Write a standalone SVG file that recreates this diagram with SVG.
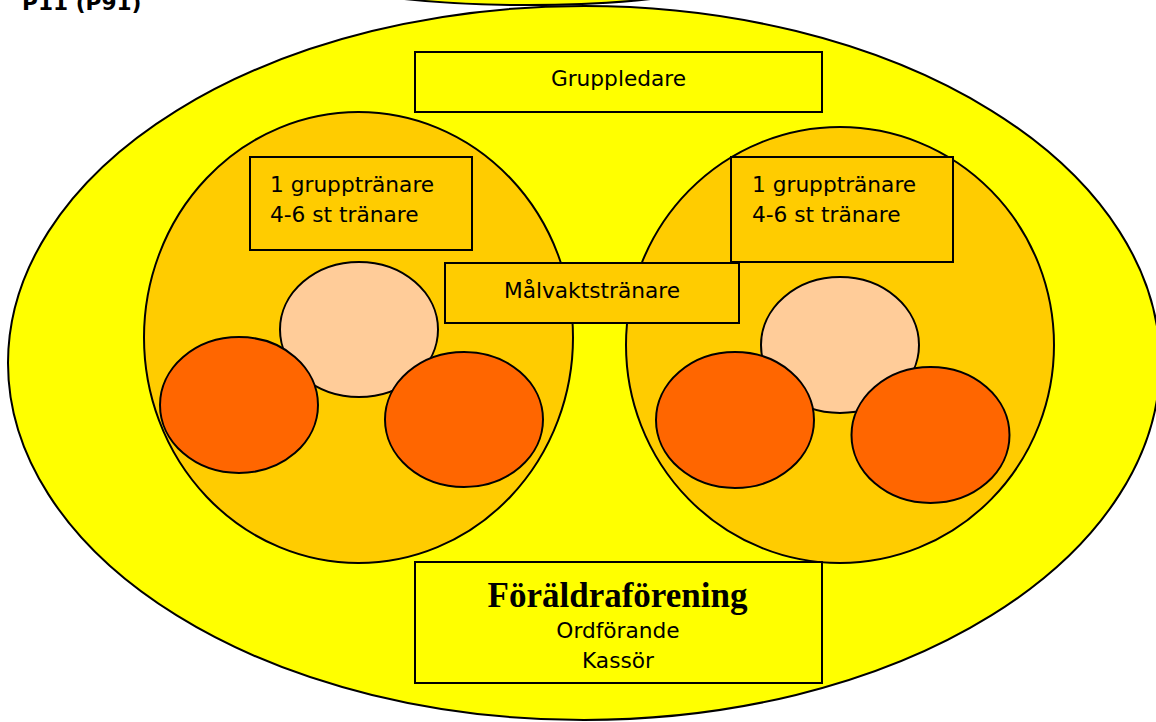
<svg xmlns="http://www.w3.org/2000/svg" width="1156" height="722" viewBox="0 0 1156 722">
<style>
.s{stroke:#000;stroke-width:2}
.y{fill:#FFFF00}
.o{fill:#FFCC00}
.p{fill:#FFCC99}
.r{fill:#FF6600}
.t{font-family:"DejaVu Sans","Liberation Sans",sans-serif;font-size:21.7px;fill:#000}
.c{text-anchor:middle}
.b{font-family:"Liberation Serif","DejaVu Serif",serif;font-weight:bold;font-size:35px;fill:#000}
</style>
<rect width="1156" height="722" fill="#fff"/>
<g id="top-ellipse"><ellipse class="s y" cx="527.5" cy="-35" rx="232" ry="40"/></g>
<text id="title" x="22" y="10" class="t" font-weight="bold">P11 (P91)</text>
<g id="outer"><ellipse class="s y" cx="584" cy="363" rx="576" ry="357"/></g>
<g id="left-group">
<ellipse class="s o" cx="358.5" cy="337.5" rx="214.5" ry="225.5"/>
</g>
<g id="right-group">
<ellipse class="s o" cx="840" cy="345" rx="214" ry="218"/>
</g>
<g id="left-trainers">
<rect class="s o" x="250" y="157" width="222" height="93"/>
<text class="t" x="270" y="192">1 grupptränare</text>
<text class="t" x="270" y="222">4-6 st tränare</text>
</g>
<g id="right-trainers">
<rect class="s o" x="731" y="157" width="222" height="105"/>
<text class="t" x="752" y="192">1 grupptränare</text>
<text class="t" x="752" y="222">4-6 st tränare</text>
</g>
<g id="left-players">
<ellipse class="s p" cx="359" cy="329.5" rx="79" ry="67.5"/>
<ellipse class="s r" cx="239" cy="405" rx="79" ry="68"/>
<ellipse class="s r" cx="464" cy="419.5" rx="79" ry="67.5"/>
</g>
<g id="right-players">
<ellipse class="s p" cx="840" cy="345" rx="79" ry="68"/>
<ellipse class="s r" cx="735" cy="420" rx="79" ry="68"/>
<ellipse class="s r" cx="930.5" cy="435" rx="79" ry="68"/>
</g>
<g id="malvakt">
<rect class="s o" x="445" y="263" width="294" height="60"/>
<text class="t c" x="592" y="298">Målvaktstränare</text>
</g>
<g id="gruppledare">
<rect class="s y" x="415" y="52" width="407" height="60"/>
<text class="t c" x="618.5" y="86">Gruppledare</text>
</g>
<g id="foraldra">
<rect class="s y" x="415" y="562" width="407" height="121"/>
<text class="b c" x="617.5" y="607">Föräldraförening</text>
<text class="t c" x="618" y="638">Ordförande</text>
<text class="t c" x="618" y="668">Kassör</text>
</g>
<g id="connectors"></g>
</svg>
